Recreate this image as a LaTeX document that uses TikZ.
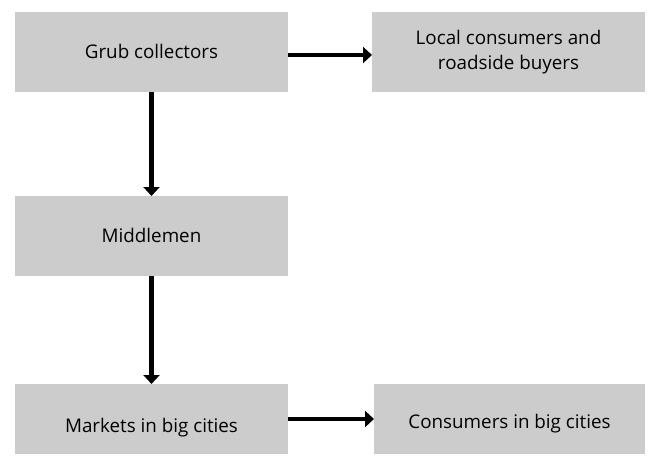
\documentclass[tikz,border=0pt]{standalone}
\usepackage{fontspec}
\setmainfont{Open Sans}
\usepackage{tikz}
\usetikzlibrary{arrows.meta}
\usetikzlibrary{positioning}
\definecolor{boxgray}{RGB}{204,204,204}
\tikzset{->, > = {Triangle[length = 9pt, width = 16pt]}, node distance = 84pt}
\tikzset{box/.style = {fill = boxgray, minimum width = 273pt, minimum height = 80pt, inner sep = 0pt, outer sep = 0pt, font = \fontsize{18.8}{25}\selectfont},
  oneline/.style = {text height = 13pt, text depth = 0pt}}

\begin{document}
\begin{tikzpicture}[x = 1pt, y = -1pt, line width = 4.5pt]
    \useasboundingbox (0,0) rectangle (650,455);
    \node [box, oneline] (grub) at (151.5,52) {Grub collectors};
    \node [box, align = center, right = of grub] (local) {Local consumers and\\roadside buyers};
    \node [box, oneline, below = 104pt of grub] (middle) {Middlemen};
    \node [box, oneline, text height = 26pt, minimum height = 70pt, below = 108pt of middle] (markets) {Markets in big cities};
    \node [box, oneline, text height = 19pt, minimum height = 70pt, minimum width = 271pt, right = 86pt of markets] (consumers) {Consumers in big cities};
    % arrows
    \draw ([yshift = -3pt] grub.east) -- ([yshift = -3pt] local.west);
    \draw (grub) -- (middle);
    \draw (middle) -- (markets);
    \draw (markets) -- (consumers);
  \end{tikzpicture}
\end{document}
